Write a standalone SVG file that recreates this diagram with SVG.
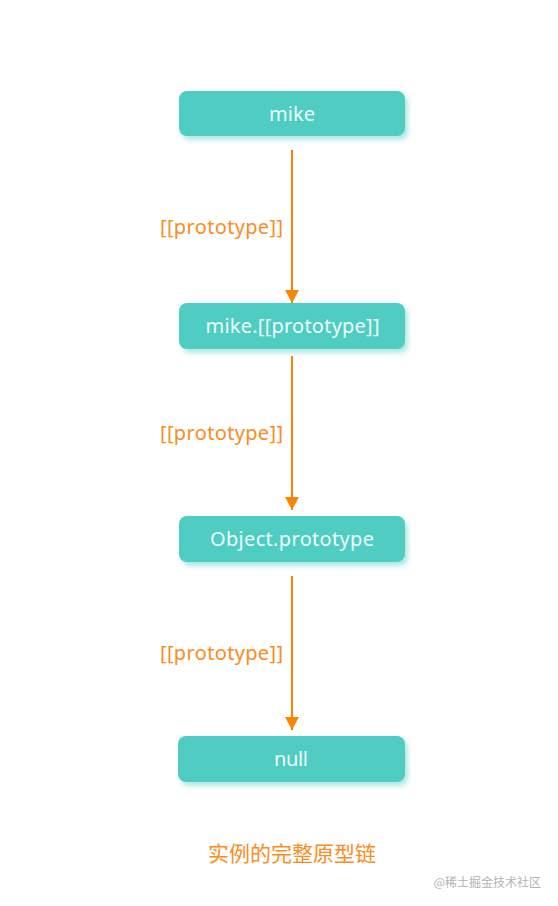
<svg xmlns="http://www.w3.org/2000/svg" width="558" height="906" viewBox="0 0 558 906">
<style>
.box{fill:#4fcdc2;filter:url(#sh)}
.nt{font-family:"Noto Sans","Liberation Sans",sans-serif;font-size:20px;fill:#eefcfa;text-anchor:middle;dominant-baseline:central}
.lb{font-family:"Noto Sans","Liberation Sans",sans-serif;font-size:20px;fill:#fb8c1e;text-anchor:middle;dominant-baseline:central}
.ln{stroke:#fb8500;stroke-width:2;fill:none;marker-end:url(#ah)}
</style>
<defs>
<filter id="sh" x="-10%" y="-30%" width="125%" height="170%">
<feDropShadow dx="3" dy="4" stdDeviation="2.5" flood-color="#4fcdc2" flood-opacity="0.45"/>
</filter>
<marker id="ah" markerWidth="13" markerHeight="14" refX="13" refY="7" orient="auto" markerUnits="userSpaceOnUse" viewBox="0 0 13 14">
<path d="M0,0 L13,7 L0,14 Z" fill="#fb8500"/>
</marker>
</defs>
<rect width="558" height="906" fill="#ffffff"/>
<g id="connectors">
<line class="ln" x1="292" y1="150" x2="292" y2="303"/>
<line class="ln" x1="292" y1="356" x2="292" y2="510"/>
<line class="ln" x1="292" y1="576" x2="292" y2="730"/>
<text class="lb" x="221.5" y="226.5" textLength="123">[[prototype]]</text>
<text class="lb" x="221.5" y="432.5" textLength="123">[[prototype]]</text>
<text class="lb" x="221.5" y="652.5" textLength="123">[[prototype]]</text>
</g>
<g id="n1"><rect class="box" x="179" y="91" width="226" height="45" rx="8"/><text class="nt" x="292" y="113" textLength="46">mike</text></g>
<g id="n2"><rect class="box" x="179" y="303" width="226" height="46" rx="8"/><text class="nt" x="292.5" y="325.5" textLength="174">mike.[[prototype]]</text></g>
<g id="n3"><rect class="box" x="179" y="516" width="226" height="46" rx="8"/><text class="nt" x="292" y="538.5" textLength="164">Object.prototype</text></g>
<g id="n4"><rect class="box" x="178" y="736" width="227" height="46" rx="8"/><text class="nt" x="291" y="758.5" textLength="34">null</text></g>
<text x="292" y="851.5" font-family="'Noto Sans CJK SC',sans-serif" font-size="21" fill="#fb8c1e" text-anchor="middle" dominant-baseline="central">实例的完整原型链</text>
<text x="541" y="881" font-family="'Noto Sans CJK SC',sans-serif" font-size="12" fill="#b3b3b3" text-anchor="end" dominant-baseline="central">@稀土掘金技术社区</text>
</svg>
